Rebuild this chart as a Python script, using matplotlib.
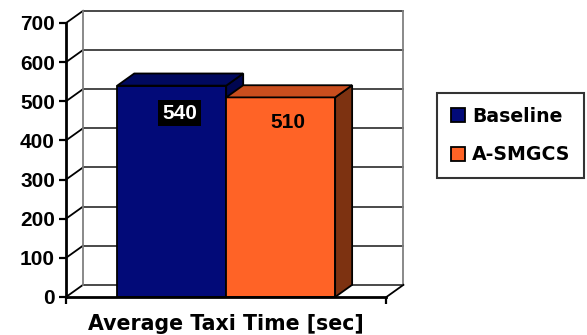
import matplotlib
matplotlib.use("Agg")
import matplotlib.pyplot as plt
from matplotlib.patches import Polygon, Patch

# Data
series = ["Baseline", "A-SMGCS"]
values = [540, 510]
yticks = [0, 100, 200, 300, 400, 500, 600, 700]
xlabel = "Average Taxi Time [sec]"

front_colors = ["#020a78", "#ff6326"]
top_colors = ["#00095e", "#c94e1e"]
side_colors = ["#000650", "#7d3211"]

plt.rcParams["font.family"] = ["Liberation Sans", "DejaVu Sans"]
plt.rcParams["font.weight"] = "bold"
wide = ["DejaVu Sans", "Liberation Sans"]

fig = plt.figure(figsize=(5.87, 3.35), dpi=100)
ymax = 735
ax = fig.add_axes([66 / 587, 38 / 335, 339 / 587, ymax * 274 / 700 / 335])

dx, dy = 0.053, 31          # depth offset of the 3-D box
width = 0.34
centers = [0.5 - width / 2, 0.5 + width / 2]

# back wall gridlines and left wall diagonals
for v in yticks:
    ax.plot([dx, 1 + dx], [v + dy, v + dy], color="#3a3a3a", lw=1.3, zorder=1,
            clip_on=False)
    ax.plot([0, dx], [v, v + dy], color="black", lw=1.3, zorder=1, clip_on=False)
ax.plot([dx, dx], [dy, yticks[-1] + dy], color="#808080", lw=1.3, zorder=1)
ax.plot([1 + dx, 1 + dx], [dy, yticks[-1] + dy], color="#808080", lw=1.3, zorder=1)
ax.plot([1, 1 + dx], [0, dy], color="black", lw=1.3, zorder=1, clip_on=False)

# bars with top and side faces
for i, (c, v) in enumerate(zip(centers, values)):
    x0, x1 = c - width / 2, c + width / 2
    z = 3 + i
    ax.bar(c, v, width=width, color=front_colors[i], edgecolor="black", lw=1.3,
           zorder=z)
    top = Polygon([(x0, v), (x0 + dx, v + dy), (x1 + dx, v + dy), (x1, v)],
                  closed=True, facecolor=top_colors[i], edgecolor="black",
                  lw=1.3, zorder=z)
    side = Polygon([(x1, 0), (x1 + dx, dy), (x1 + dx, v + dy), (x1, v)],
                   closed=True, facecolor=side_colors[i], edgecolor="black",
                   lw=1.3, zorder=z)
    ax.add_patch(side)
    ax.add_patch(top)

# value labels
ax.text(centers[0] + dx * 0.45, values[0] - 70, str(values[0]), color="white",
        fontsize=15, fontweight="bold", ha="center", va="center", zorder=10,
        bbox=dict(facecolor="black", edgecolor="none",
                  boxstyle="square,pad=0.18"))
ax.text(centers[1] + dx * 0.45, values[1] - 63, str(values[1]), color="black",
        fontsize=15, fontweight="bold", ha="center", va="center", zorder=10)

ax.set_xlim(0, 1 + dx + 0.005)
ax.set_ylim(0, ymax)
for s in ["top", "right"]:
    ax.spines[s].set_visible(False)
ax.spines["left"].set_bounds(0, yticks[-1])
ax.spines["bottom"].set_bounds(0, 1)
ax.spines["left"].set_linewidth(2)
ax.spines["bottom"].set_linewidth(2)
ax.spines["left"].set_zorder(8)
ax.spines["bottom"].set_zorder(8)
ax.set_yticks(yticks)
ax.set_yticklabels([str(t) for t in yticks], fontsize=15, fontweight="bold")
ax.set_xticks([0, 1])
ax.set_xticklabels([])
ax.tick_params(axis="y", length=5, width=1.6, direction="out", pad=3)
ax.tick_params(axis="x", length=5, width=1.6, direction="out")
ax.patch.set_visible(False)

ax.text(0.5, -0.094, xlabel, transform=ax.get_xaxis_transform(), ha="center",
        va="center", fontsize=14.8, fontweight="bold", family=wide)

handles = [Patch(facecolor=front_colors[i], edgecolor="black", lw=1.3)
           for i in range(len(series))]
leg = fig.legend(handles, series, loc="upper left",
                 bbox_to_anchor=(437 / 587, 1 - 93 / 335),
                 prop=dict(size=13.6, weight="bold", family=wide), frameon=True,
                 fancybox=False, handlelength=0.75, handleheight=0.75,
                 handletextpad=0.4, labelspacing=1.05, borderpad=0.72,
                 borderaxespad=0)
leg.get_frame().set_edgecolor("black")
leg.get_frame().set_linewidth(1.5)

fig.savefig("out.png", dpi=100)
